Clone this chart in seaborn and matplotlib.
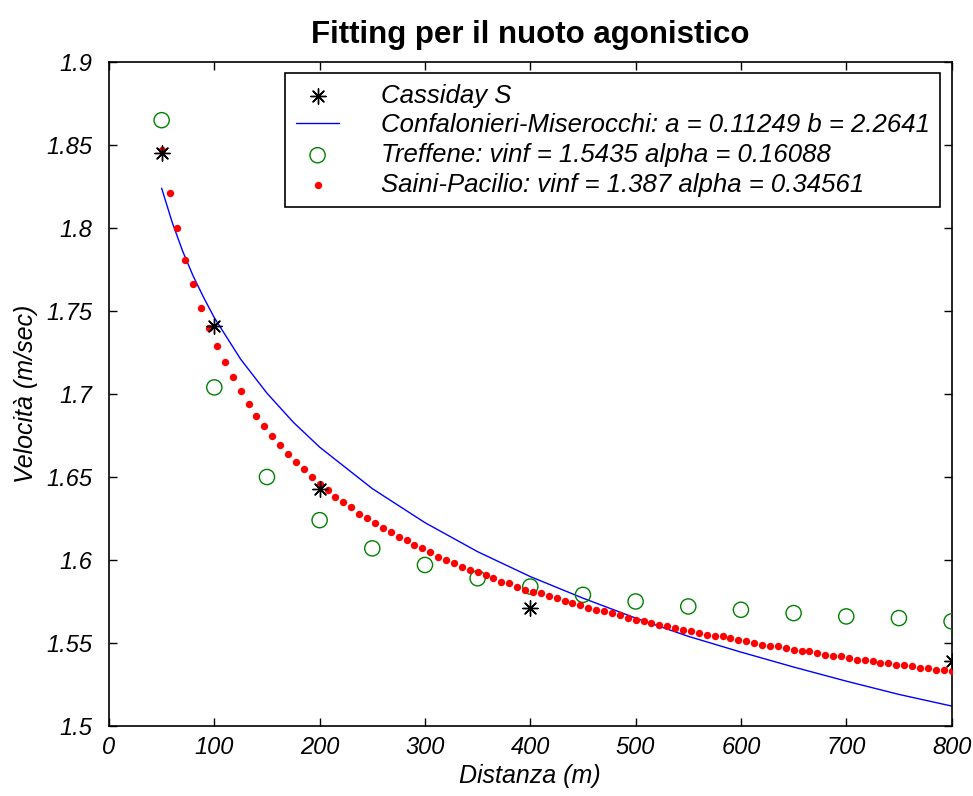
import numpy as np
import pandas as pd
import matplotlib
matplotlib.use("Agg")
import matplotlib.pyplot as plt
import seaborn as sns

# Cassiday S - measured points
cass_x = [50, 100, 200, 400, 800]
cass_v = [1.845, 1.741, 1.643, 1.571, 1.539]

# Confalonieri-Miserocchi fit (line)
conf_x = [50, 60, 70, 80, 90, 100, 125, 150, 175, 200, 250, 300, 350,
          400, 450, 500, 550, 600, 650, 700, 750, 800]
conf_v = [1.824, 1.8035, 1.786, 1.771, 1.758, 1.746, 1.721, 1.7005, 1.683,
          1.668, 1.643, 1.6225, 1.605, 1.590, 1.577, 1.565, 1.554, 1.5445,
          1.5355, 1.527, 1.519, 1.512]

# Treffene fit (open circles)
tref_x = [50, 100, 150, 200, 250, 300, 350, 400, 450, 500, 550, 600, 650,
          700, 750, 800]
tref_v = [1.865, 1.704, 1.650, 1.624, 1.607, 1.597, 1.589, 1.584, 1.579,
          1.575, 1.572, 1.570, 1.568, 1.566, 1.565, 1.563]

# Saini-Pacilio fit (red dots), every 7.5 m from 50 to 800
sain_x = list(np.arange(50, 800.1, 7.5))
sain_v = [1.847, 1.821, 1.800, 1.781, 1.766, 1.752, 1.740, 1.729, 1.719,
          1.710, 1.702, 1.694, 1.687, 1.681, 1.675, 1.669, 1.664, 1.659,
          1.655, 1.650, 1.646, 1.642, 1.638, 1.635, 1.632, 1.628, 1.625,
          1.622, 1.619, 1.617, 1.614, 1.612, 1.609, 1.607, 1.605, 1.602,
          1.600, 1.598, 1.596, 1.594, 1.593, 1.591, 1.589, 1.587, 1.586,
          1.584, 1.582, 1.581, 1.580, 1.578, 1.577, 1.575, 1.574, 1.573,
          1.571, 1.570, 1.569, 1.568, 1.567, 1.565, 1.564, 1.563, 1.562,
          1.561, 1.560, 1.559, 1.558, 1.557, 1.556, 1.555, 1.554, 1.554,
          1.553, 1.552, 1.551, 1.550, 1.549, 1.548, 1.548, 1.547, 1.546,
          1.545, 1.545, 1.544, 1.543, 1.542, 1.542, 1.541, 1.540, 1.540,
          1.539, 1.538, 1.538, 1.537, 1.537, 1.536, 1.535, 1.535, 1.534,
          1.534, 1.533]

x_ticks = [0, 100, 200, 300, 400, 500, 600, 700, 800]
y_ticks = [1.5, 1.55, 1.6, 1.65, 1.7, 1.75, 1.8, 1.85, 1.9]

sns.set_style("ticks")
plt.rcParams['font.family'] = ['Liberation Sans', 'DejaVu Sans']
plt.rcParams['text.color'] = 'black'
plt.rcParams['axes.labelcolor'] = 'black'
plt.rcParams['xtick.color'] = 'black'
plt.rcParams['ytick.color'] = 'black'

fig = plt.figure(figsize=(9.73, 7.96), dpi=100)
ax = fig.add_axes([0.112, 0.088, 0.866, 0.834])

sns.scatterplot(x=cass_x, y=cass_v, ax=ax, marker=(8, 2, 0), color="black",
                s=120, linewidth=1.0, label="Cassiday S", zorder=4)
sns.lineplot(x=conf_x, y=conf_v, ax=ax, color="#0000ff", linewidth=1.0,
             label="Confalonieri-Miserocchi: a = 0.11249 b = 2.2641", zorder=2)
sns.scatterplot(x=tref_x, y=tref_v, ax=ax, marker="o", facecolor="none",
                edgecolor="#008000", s=120, linewidth=1.0,
                label="Treffene: vinf = 1.5435 alpha = 0.16088", zorder=3)
sns.scatterplot(x=sain_x, y=sain_v, ax=ax, marker="o", color="#ff0000",
                s=28, linewidth=0, label="Saini-Pacilio: vinf = 1.387 alpha = 0.34561",
                zorder=3)

ax.set_xlim(0, 800)
ax.set_ylim(1.5, 1.9)
ax.set_xticks(x_ticks)
ax.set_yticks(y_ticks)
ax.set_xticklabels([str(t) for t in x_ticks], fontsize=17, style="italic")
ax.set_yticklabels([f"{t:g}" for t in y_ticks], fontsize=17, style="italic")
ax.tick_params(direction="in", top=True, right=True, length=6, width=1)
ax.tick_params(axis="y", pad=12)
ax.tick_params(axis="x", pad=7)
for sp in ax.spines.values():
    sp.set_linewidth(1.2)
    sp.set_color("black")

ax.set_xlabel("Distanza (m)", fontsize=18, style="italic", labelpad=4)
ax.set_ylabel("Velocità (m/sec)", fontsize=18, style="italic", labelpad=6)
ax.set_title("Fitting per il nuoto agonistico", fontsize=22.5, fontweight="bold", pad=14)

leg = ax.legend(loc="upper right", bbox_to_anchor=(0.986, 0.983), borderaxespad=0,
                fancybox=False, edgecolor="black", framealpha=1,
                prop={"size": 18.5, "style": "italic"},
                borderpad=0.4, labelspacing=0.22, handlelength=1.7, handletextpad=1.6)
leg.get_frame().set_linewidth(1.2)

fig.savefig("out.png", dpi=100)
